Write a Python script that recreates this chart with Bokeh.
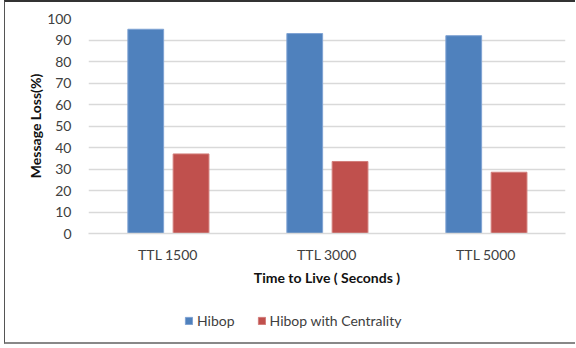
from bokeh.plotting import figure
from bokeh.layouts import column
from bokeh.models import ColumnDataSource, Range1d, FactorRange, Legend, LegendItem, SingleIntervalTicker
from bokeh.transform import dodge
from bokeh.embed import file_html
from bokeh.resources import INLINE

categories = ["TTL 1500", "TTL 3000", "TTL 5000"]
hibop = [95, 93, 92]
hibop_centrality = [37, 33.5, 28.5]
series_names = ["Hibop", "Hibop with Centrality"]
colors = ["#4F81BD", "#C0504D"]
edge_colors = ["#7FA3D3", "#D27D7A"]

src = ColumnDataSource(dict(cat=categories, a=hibop, b=hibop_centrality))

FONT = "Lato"
p = figure(width=571, height=298, x_range=FactorRange(*categories), y_range=Range1d(0, 100),
           output_backend="svg", toolbar_location=None,
           min_border_left=83, min_border_right=11, min_border_top=16, min_border_bottom=67)
p.outline_line_color = None
p.background_fill_color = "white"
p.border_fill_color = "white"
p.styles = {"margin-left": "4px", "border-left": "1px solid #555555",
            "border-top": "2px solid #333333"}

r1 = p.vbar(x=dodge("cat", -0.14, range=p.x_range), top="a", width=0.225, source=src,
            fill_color=colors[0], line_color=edge_colors[0], line_width=1)
r2 = p.vbar(x=dodge("cat", 0.145, range=p.x_range), top="b", width=0.225, source=src,
            fill_color=colors[1], line_color=edge_colors[1], line_width=1)

p.xgrid.grid_line_color = None
p.ygrid.grid_line_color = "#D9D9D9"
p.ygrid.grid_line_width = 1.5
p.yaxis.ticker = SingleIntervalTicker(interval=10)

for ax in (p.xaxis[0], p.yaxis[0]):
    ax.major_tick_line_color = None
    ax.minor_tick_line_color = None
    ax.major_label_text_font = FONT
    ax.major_label_text_font_size = "14px"
    ax.major_label_text_color = "#404040"
    ax.axis_label_text_font = FONT
    ax.axis_label_text_font_size = "14px"
    ax.axis_label_text_font_style = "bold"
    ax.axis_label_text_color = "#111111"

p.yaxis.axis_line_color = None
p.yaxis.axis_label = "Message Loss(%)"
p.yaxis.major_label_standoff = 11
p.yaxis.axis_label_standoff = 0
p.xaxis.axis_line_color = "#D9D9D9"
p.xaxis.axis_line_width = 1.5
p.xaxis.axis_label = "Time to Live ( Seconds )"
p.xaxis.major_label_standoff = 6
p.xaxis.axis_label_standoff = 3

# legend strip (swatch renderers sit outside the visible y range)
lf = figure(width=571, height=46, x_range=FactorRange(*series_names), y_range=Range1d(1, 2),
            x_axis_type=None, y_axis_type=None, output_backend="svg", toolbar_location=None,
            min_border=0)
lf.outline_line_color = None
lf.xgrid.visible = False
lf.ygrid.visible = False
lf.styles = {"margin-left": "4px", "border-left": "1px solid #555555",
             "border-bottom": "2px solid #888888"}
lr1 = lf.vbar(x=[series_names[0]], top=[0], bottom=[0], width=0.1,
              fill_color=colors[0], line_color=edge_colors[0])
lr2 = lf.vbar(x=[series_names[1]], top=[0], bottom=[0], width=0.1,
              fill_color=colors[1], line_color=edge_colors[1])
legend = Legend(items=[LegendItem(label=series_names[0], renderers=[lr1]),
                       LegendItem(label=series_names[1], renderers=[lr2])],
                orientation="horizontal", location=(96, 15), padding=0, margin=0,
                spacing=22, glyph_width=9, glyph_height=9, label_standoff=4,
                label_text_font=FONT, label_text_font_size="14px", label_text_color="#404040",
                border_line_color=None, background_fill_alpha=0)
lf.add_layout(legend, "center")

layout = column(p, lf, spacing=0)
open("out.html", "w").write(file_html(layout, INLINE))
